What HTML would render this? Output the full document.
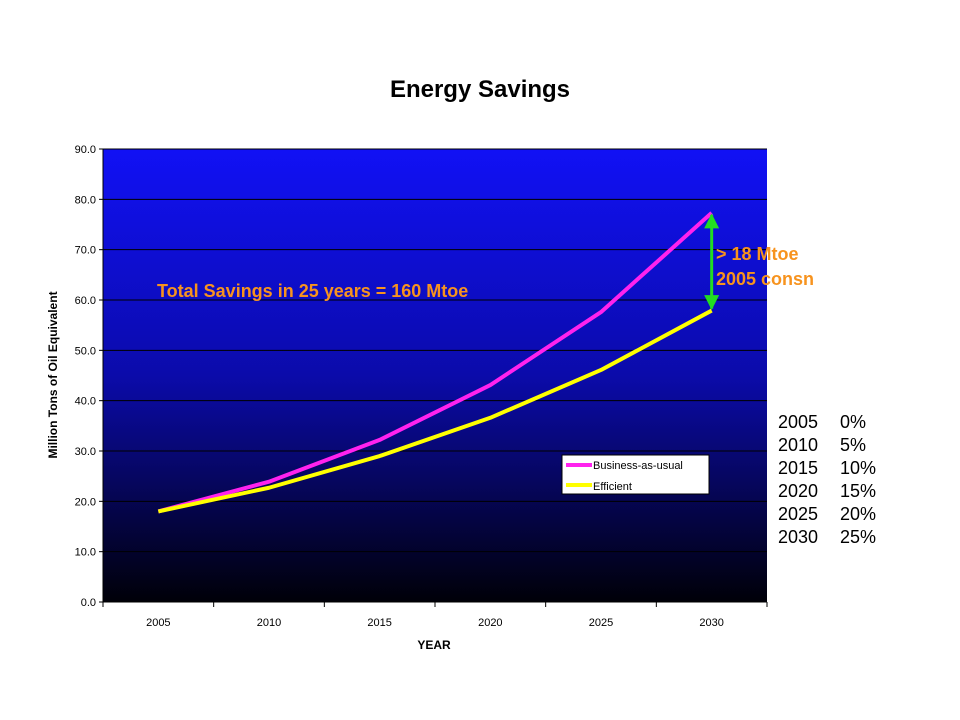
<!DOCTYPE html>
<html><head><meta charset="utf-8"><style>
body{margin:0;background:#fff;width:960px;height:720px;overflow:hidden;font-family:"Liberation Sans",sans-serif}
</style></head><body>
<svg width="960" height="720" style="position:absolute;left:0;top:0;font-family:'Liberation Sans',sans-serif">
<defs><linearGradient id="bg" x1="0" y1="0" x2="0" y2="1"><stop offset="0" stop-color="#1111f5"/><stop offset="0.5" stop-color="#0b0baa"/><stop offset="1" stop-color="#000008"/></linearGradient>
<marker id="ah" viewBox="0 0 10 10" refX="9" refY="5" markerWidth="5" markerHeight="5" orient="auto-start-reverse"><path d="M0,0L10,5L0,10z" fill="#22dd22"/></marker></defs>
<text x="480" y="97" text-anchor="middle" font-size="24" font-weight="bold">Energy Savings</text>
<rect x="103" y="149" width="664" height="453" fill="url(#bg)"/>
<g id="grid"></g><g id="axes"></g><g id="lines"></g>
<text x="434" y="649" text-anchor="middle" font-size="12" font-weight="bold">YEAR</text>
<text transform="translate(57,375) rotate(-90)" text-anchor="middle" font-size="12" font-weight="bold">Million Tons of Oil Equivalent</text>
<text x="157" y="297" font-size="18" font-weight="bold" fill="#f7931e">Total Savings in 25 years = 160 Mtoe</text>
<text x="716" y="260" font-size="18" font-weight="bold" fill="#f7931e">&gt; 18 Mtoe</text>
<text x="716" y="285" font-size="18" font-weight="bold" fill="#f7931e">2005 consn</text>
<line id="gap" stroke="#22dd22" stroke-width="3" marker-start="url(#ah)" marker-end="url(#ah)"/>
<g>
<rect x="562" y="455" width="147" height="39" fill="#fff" stroke="#000"/>
<line x1="566" y1="465" x2="592" y2="465" stroke="#ff22ee" stroke-width="4"/>
<text x="593" y="469" font-size="11">Business-as-usual</text>
<line x1="566" y1="485" x2="592" y2="485" stroke="#ffff00" stroke-width="4"/>
<text x="593" y="490" font-size="11">Efficient</text>
</g>
<g font-size="18">
<text x="778" y="428">2005</text><text x="840" y="428">0%</text>
<text x="778" y="451">2010</text><text x="840" y="451">5%</text>
<text x="778" y="474">2015</text><text x="840" y="474">10%</text>
<text x="778" y="497">2020</text><text x="840" y="497">15%</text>
<text x="778" y="520">2025</text><text x="840" y="520">20%</text>
<text x="778" y="543">2030</text><text x="840" y="543">25%</text>
</g>
</svg>
<script>
const categories=["2005","2010","2015","2020","2025","2030"];
const bauValues=[18,23.9,32.2,43.1,57.6,77.3];
const efficientValues=[18,22.7,29,36.6,46.1,57.9];
const yTicks=[0,10,20,30,40,50,60,70,80,90];
const X0=103,W=664,Y0=602,H=453,YMAX=90;
const bw=W/categories.length;
const x=i=>X0+bw*(i+0.5);
const y=v=>Y0-v/YMAX*H;
const NS="http://www.w3.org/2000/svg";
function mk(tag,at,parent){const e=document.createElementNS(NS,tag);for(const k in at)e.setAttribute(k,at[k]);document.getElementById(parent).appendChild(e);return e;}
yTicks.forEach(t=>{
 if(t>0){const g=mk('line',{x1:X0,x2:X0+W,y1:y(t),y2:y(t),stroke:'#000','stroke-width':1},'grid');
 
 }
 const tk=mk('line',{x1:X0-4,x2:X0,y1:y(t),y2:y(t),stroke:'#000'},'axes');
 
 
 const l=mk('text',{x:X0-7,y:y(t)+4,'text-anchor':'end','font-size':11},'axes');
 l.textContent=t.toFixed(1);
 
 
});
const ax=mk('line',{x1:X0,x2:X0,y1:Y0-H,y2:Y0,stroke:'#000'},'axes');


const bx=mk('line',{x1:X0,x2:X0+W,y1:Y0,y2:Y0,stroke:'#000'},'axes');


for(let i=0;i<=categories.length;i++){
 const tk=mk('line',{x1:X0+bw*i,x2:X0+bw*i,y1:Y0,y2:Y0+5,stroke:'#000'},'axes');
 
 
}
categories.forEach((c,i)=>{
 const l=mk('text',{x:x(i),y:Y0+24,'text-anchor':'middle','font-size':11},'axes');
 l.textContent=c;
 
 
});
function series(vals,color,name){
 const p=mk('polyline',{points:vals.map((v,i)=>x(i)+','+y(v)).join(' '),fill:'none',stroke:color,'stroke-width':4,'stroke-linejoin':'round'},'lines');
 
 
}
series(bauValues,'#ff22ee','bau-line');
series(efficientValues,'#ffff00','efficient-line');
const n=categories.length-1,g=document.getElementById('gap');
g.setAttribute('x1',x(n));g.setAttribute('x2',x(n));
g.setAttribute('y1',y(bauValues[n])+2);g.setAttribute('y2',y(efficientValues[n])-2);
</script>
</body></html>
